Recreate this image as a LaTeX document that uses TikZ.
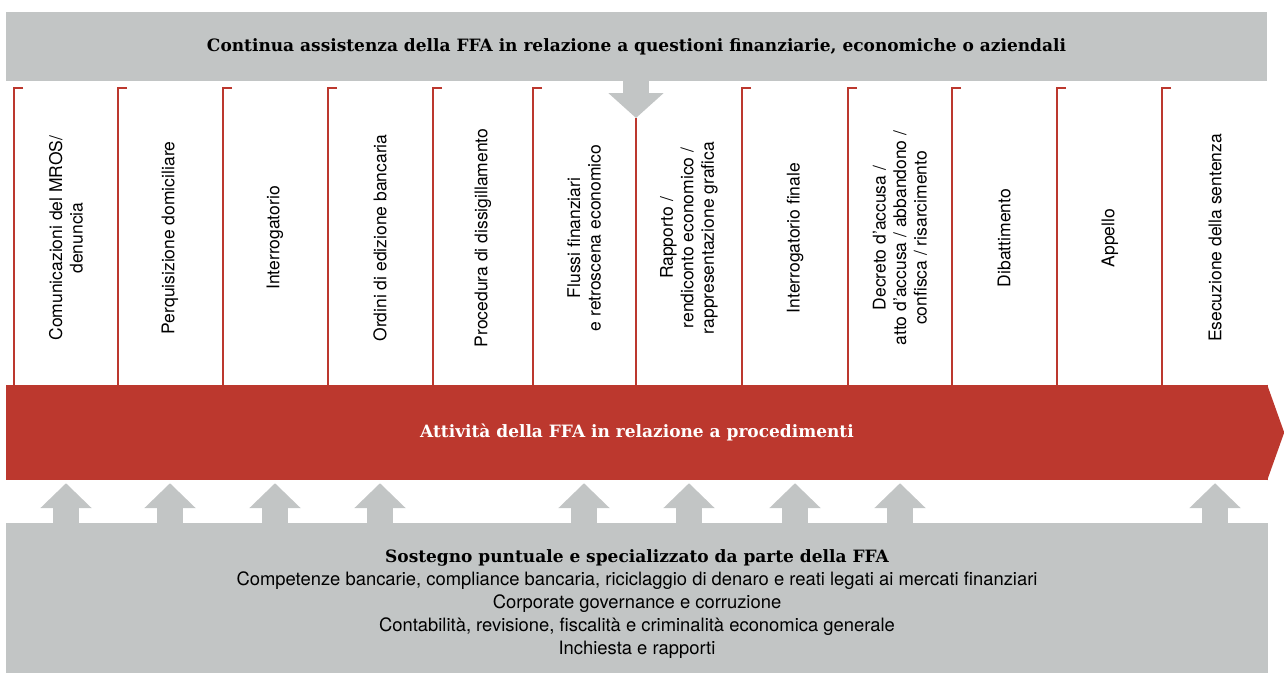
\documentclass[tikz,border=0pt]{standalone}
\usepackage{fontspec}
\setmainfont{TeX Gyre Heros}
\newfontfamily\slabfont{DejaVu Serif}
\usetikzlibrary{arrows.meta}
\definecolor{ffagrey}{HTML}{C2C5C5}
\definecolor{ffared}{HTML}{BC382E}
\begin{document}
\begin{tikzpicture}[x=1pt, y=-1pt,
    greybox/.style={fill=ffagrey, inner sep=0pt},
    heading/.style={font=\slabfont\bfseries\fontsize{17}{20}\selectfont},
    stage/.style={rotate=90, align=center, inner sep=0pt, font=\fontsize{17.5}{20.5}\selectfont},
    bracket/.style={draw=ffared, line width=1.5pt},
    fatarrow/.style={draw=ffagrey, line width=26pt, -{Triangle[width=#1, length=25pt]}},
    fatarrow/.default=50pt]
    \useasboundingbox (0,0) rectangle (1284,673);
    % top box
    \node [greybox, heading, minimum width=1261pt, minimum height=69pt] (assist) at (636.5,46.5) {Continua assistenza della FFA in relazione a questioni finanziarie, economiche o aziendali};
    \coordinate (rtip) at (636,118);
    % column brackets
    \draw [bracket] (23,88) -- (14,88) -- (14,386);
    \draw [bracket] (127,88) -- (118,88) -- (118,386);
    \draw [bracket] (232,88) -- (223,88) -- (223,386);
    \draw [bracket] (337,88) -- (328,88) -- (328,386);
    \draw [bracket] (442,88) -- (433,88) -- (433,386);
    \draw [bracket] (542,88) -- (533,88) -- (533,386);
    \draw [bracket] (751,88) -- (742,88) -- (742,386);
    \draw [bracket] (857,88) -- (848,88) -- (848,386);
    \draw [bracket] (961,88) -- (952,88) -- (952,386);
    \draw [bracket] (1066,88) -- (1057,88) -- (1057,386);
    \draw [bracket] (1171,88) -- (1162,88) -- (1162,386);
    % stages
    \node [stage] (mros) at (66,238) {Comunicazioni del MROS/\\denuncia};
    \node [stage] (perquisizione) at (170,238) {Perquisizione domiciliare};
    \node [stage] (interrogatorio) at (275,238) {Interrogatorio};
    \node [stage] (edizione) at (380,238) {Ordini di edizione bancaria};
    \node [stage] (dissigillamento) at (483,238) {Procedura di dissigillamento};
    \node [stage] (flussi) at (584,238) {Flussi finanziari\\e retroscena economico};
    \node [stage] (rapporto) at (689,238) {Rapporto /\\rendiconto economico /\\rappresentazione grafica};
    \node [stage] (finale) at (795,238) {Interrogatorio finale};
    \node [stage] (decreto) at (900,238) {Decreto d'accusa /\\atto d'accusa / abbandono /\\confisca / risarcimento};
    \node [stage] (dibattimento) at (1004,238) {Dibattimento};
    \node [stage] (appello) at (1110,238) {Appello};
    \node [stage] (esecuzione) at (1215,238) {Esecuzione della sentenza};
    % red band
    \node [fill=ffared, inner sep=0pt, minimum width=1262pt, minimum height=95pt, text=white, heading] (band) at (637,432.5) {Attività della FFA in relazione a procedimenti};
    \fill [ffared] ([xshift=-1pt]band.north east) -- ([xshift=16pt]band.east) -- ([xshift=-1pt]band.south east) -- cycle;
    \draw [bracket] (rtip) -- (band.north -| rtip);
    \draw [fatarrow=54pt] (assist.south -| rtip) -- (rtip);
    % bottom box
    \node [greybox, minimum width=1262pt, minimum height=150pt] (support) at (637,598) {};
    \node [align=center, inner sep=0pt, font=\fontsize{18.4}{23}\selectfont] (supporttext) at (637,604) {{\slabfont\bfseries\fontsize{17}{23}\selectfont Sostegno puntuale e specializzato da parte della FFA}\\Competenze bancarie, compliance bancaria, riciclaggio di denaro e reati legati ai mercati finanziari\\Corporate governance e corruzione\\Contabilità, revisione, fiscalità e criminalità economica generale\\Inchiesta e rapporti};
    \draw [fatarrow, shorten >=3pt] (support.north -| mros) -- (band.south -| mros);
    \draw [fatarrow, shorten >=3pt] (support.north -| perquisizione) -- (band.south -| perquisizione);
    \draw [fatarrow, shorten >=3pt] (support.north -| interrogatorio) -- (band.south -| interrogatorio);
    \draw [fatarrow, shorten >=3pt] (support.north -| edizione) -- (band.south -| edizione);
    \draw [fatarrow, shorten >=3pt] (support.north -| flussi) -- (band.south -| flussi);
    \draw [fatarrow, shorten >=3pt] (support.north -| rapporto) -- (band.south -| rapporto);
    \draw [fatarrow, shorten >=3pt] (support.north -| finale) -- (band.south -| finale);
    \draw [fatarrow, shorten >=3pt] (support.north -| decreto) -- (band.south -| decreto);
    \draw [fatarrow, shorten >=3pt] (support.north -| esecuzione) -- (band.south -| esecuzione);
\end{tikzpicture}
\end{document}
